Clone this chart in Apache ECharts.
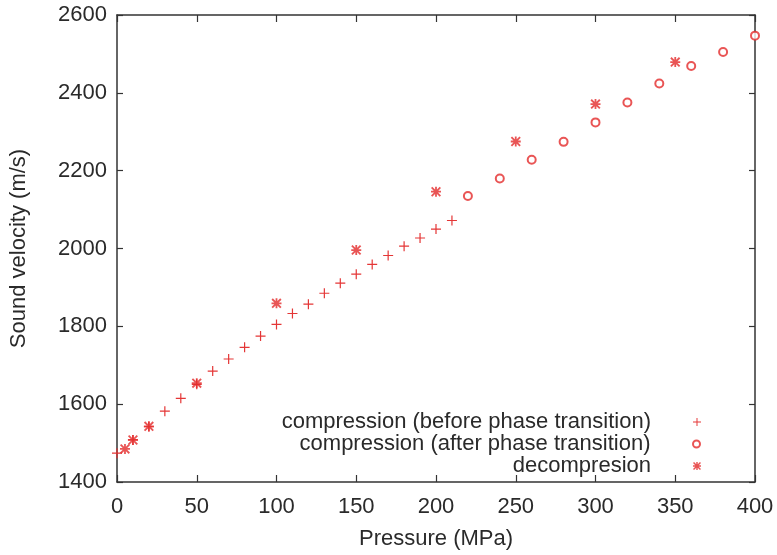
<!DOCTYPE html>
<html>
<head>
<meta charset="utf-8">
<script src="https://cdn.jsdelivr.net/npm/echarts@6/dist/echarts.min.js"></script>
<style>
html,body{margin:0;padding:0;background:#fff;}
#chart{width:777px;height:555px;}
</style>
</head>
<body>
<div id="chart"></div>
<script>
// Data
var beforeP = [0, 10, 20, 30, 40, 50, 60, 70, 80, 90, 100, 110, 120, 130, 140, 150, 160, 170, 180, 190, 200, 210];
var beforeV = [1474, 1508, 1542, 1582, 1615, 1651, 1685, 1716, 1746, 1775, 1805, 1833, 1857, 1885, 1911, 1934, 1959, 1982, 2006, 2027, 2050, 2072];
var afterP = [220, 240, 260, 280, 300, 320, 340, 360, 380, 400];
var afterV = [2135, 2180, 2228, 2274, 2324, 2375, 2424, 2469, 2505, 2547];
var decompP = [5, 10, 20, 50, 100, 150, 200, 250, 300, 350];
var decompV = [1485, 1508, 1543, 1654, 1859, 1996, 2146, 2275, 2371, 2479];
var xTicks = [0, 50, 100, 150, 200, 250, 300, 350, 400];
var yTicks = [1400, 1600, 1800, 2000, 2200, 2400, 2600];
var seriesNames = ['compression (before phase transition)', 'compression (after phase transition)', 'decompresion'];

function zip(a, b) { return a.map(function (v, i) { return [v, b[i]]; }); }

var RED = '#e32b2b';
var TXT = '#2a2a2a';
var AX = '#333333';
var FONT = '"Liberation Sans", Arial, Helvetica, sans-serif';
var plusPath = 'path://M4.4,0h1.2v10h-1.2z M0,4.4h10v1.2h-10z';
var starPath = 'path://M4.1,0h1.8v10h-1.8z M0,4.1h10v1.8h-10z M0,1.3L1.3,0L10,8.7L8.7,10Z M8.7,0L10,1.3L1.3,10L0,8.7Z';

var chart = echarts.init(document.getElementById('chart'), null, {renderer: 'canvas'});

function plain(v) { return String(v); }

function xAxisDef(pos, show) {
  return {
    type: 'value', position: pos, min: xTicks[0], max: xTicks[xTicks.length - 1], interval: 50,
    name: show ? 'Pressure (MPa)' : '', nameLocation: 'middle', nameGap: 46,
    nameTextStyle: {fontFamily: FONT, fontSize: 22, color: TXT},
    axisLine: {show: true, onZero: false, lineStyle: {color: AX, width: 1.5}},
    axisTick: {show: true, inside: true, length: 7, lineStyle: {color: AX, width: 1.2}},
    axisLabel: {show: show, fontFamily: FONT, fontSize: 22, color: TXT, margin: 14, formatter: plain},
    splitLine: {show: false}
  };
}
function yAxisDef(pos, show) {
  return {
    type: 'value', position: pos, min: yTicks[0], max: yTicks[yTicks.length - 1], interval: 200,
    name: show ? 'Sound velocity (m/s)' : '', nameLocation: 'middle', nameGap: 87,
    nameTextStyle: {fontFamily: FONT, fontSize: 22, color: TXT},
    axisLine: {show: true, onZero: false, lineStyle: {color: AX, width: 1.5}},
    axisTick: {show: true, inside: true, length: 6, lineStyle: {color: AX, width: 1.2}},
    axisLabel: {show: show, fontFamily: FONT, fontSize: 22, color: TXT, margin: 10, formatter: plain},
    splitLine: {show: false}
  };
}

function legendDef(name, icon, top, size) {
  return {
    data: [{name: name, icon: icon}],
    orient: 'horizontal', align: 'right', right: 76, top: top, padding: 0,
    itemWidth: 82, itemHeight: size, itemGap: 0,
    textStyle: {fontFamily: FONT, fontSize: 22, color: TXT},
    selectedMode: false
  };
}

chart.setOption({
  animation: false,
  backgroundColor: '#ffffff',
  grid: {left: 116, right: 22, top: 15, bottom: 72, containLabel: false},
  xAxis: [xAxisDef('bottom', true), xAxisDef('top', false)],
  yAxis: [yAxisDef('left', true), yAxisDef('right', false)],
  legend: [
    legendDef(seriesNames[0], plusPath, 411, 8),
    legendDef(seriesNames[1], 'emptyCircle', 433, 7),
    legendDef(seriesNames[2], starPath, 455, 8)
  ],
  series: [
    {
      name: seriesNames[0], type: 'scatter', xAxisIndex: 0, yAxisIndex: 0,
      data: zip(beforeP, beforeV), symbol: plusPath, symbolSize: 10,
      itemStyle: {color: RED, opacity: 0.95}
    },
    {
      name: seriesNames[1], type: 'scatter', xAxisIndex: 0, yAxisIndex: 0,
      data: zip(afterP, afterV), symbol: 'emptyCircle', symbolSize: 8,
      itemStyle: {color: RED, borderColor: RED, borderWidth: 1.5}
    },
    {
      name: seriesNames[2], type: 'scatter', xAxisIndex: 0, yAxisIndex: 0,
      data: zip(decompP, decompV), symbol: starPath, symbolSize: 10,
      itemStyle: {color: RED}
    }
  ]
});
</script>
</body>
</html>
